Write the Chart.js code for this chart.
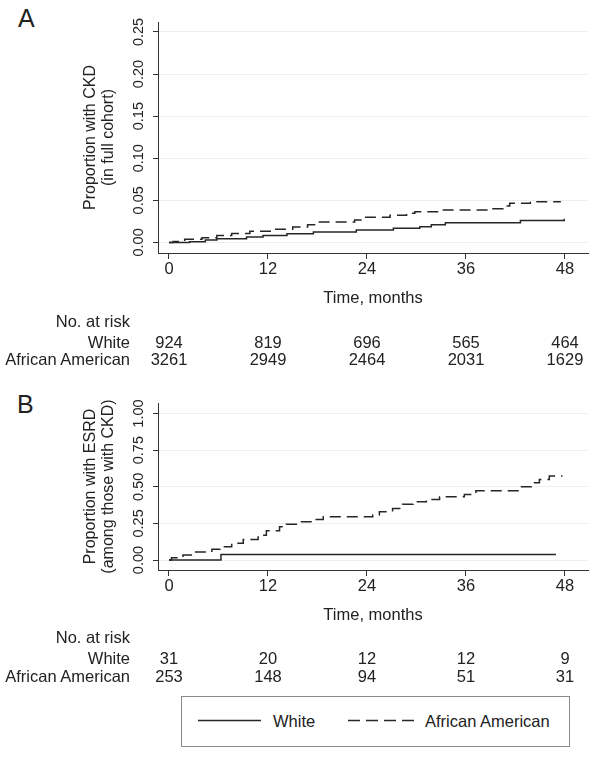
<!DOCTYPE html>
<html>
<head>
<meta charset="utf-8">
<script src="https://cdn.jsdelivr.net/npm/chart.js@4.4.1/dist/chart.umd.min.js"></script>
<style>
    body { margin: 0; background: #fff; }
    #page {
        position: relative;
        width: 602px;
        height: 757px;
        font-family: "Liberation Sans", Arial, sans-serif;
        color: #222;
        overflow: hidden;
    }
    .abs { position: absolute; white-space: nowrap; }
    .letter { font-size: 25px; line-height: 25px; }
    .risk { font-size: 16.5px; line-height: 20px; }
    .risk-label { left: 0; width: 130px; text-align: right; }
    .risk-num { transform: translateX(-50%); }
    #legend {
        position: absolute;
        left: 181px; top: 696px;
        width: 389px; height: 51px;
        box-sizing: border-box;
        border: 1px solid #8a8a8a;
        font-size: 16.5px;
        line-height: 20px;
    }
</style>
</head>
<body>
<div id="page">
    <div class="abs letter" style="left:18px; top:6px;">A</div>
    <canvas id="chartA" class="abs" width="602" height="315" style="left:0; top:0;"></canvas>
    <div id="riskA"></div>

    <div class="abs letter" style="left:17px; top:392px;">B</div>
    <canvas id="chartB" class="abs" width="602" height="252" style="left:0; top:381px;"></canvas>
    <div id="riskB"></div>

    <div id="legend">
        <svg class="abs" width="389" height="51" style="left:0; top:0;">
            <line x1="16" y1="23.5" x2="79" y2="23.5" stroke="#262626" stroke-width="1.5"/>
            <line x1="166" y1="23.5" x2="232" y2="23.5" stroke="#262626" stroke-width="1.5" stroke-dasharray="12 6"/>
        </svg>
        <span class="abs" style="left:91px; top:14px;">White</span>
        <span class="abs" style="left:243px; top:14px;">African American</span>
    </div>
</div>

<script>
/* =========================================================
   DATA
========================================================= */
const xTicks = [0, 12, 24, 36, 48];

// Panel A: cumulative proportion with CKD (full cohort)
const ckdWhiteTime = [0, 2.5, 4.4, 5.8, 9.4, 11.4, 14.3, 17.5, 22.7, 27.2, 30.4, 31.8, 33.5, 42.6, 47.9];
const ckdWhiteProp = [0, 0.0008, 0.0028, 0.0044, 0.0063, 0.0083, 0.0103, 0.0123, 0.0147, 0.0167, 0.0187, 0.021, 0.0234, 0.026, 0.028];
const ckdAATime = [0, 0.5, 1.9, 4.0, 5.8, 7.6, 9.8, 12.6, 15.0, 16.8, 17.9, 22.5, 23.5, 26.8, 28.8, 29.8, 33.0, 38.9, 40.5, 41.3, 43.8, 47.5];
const ckdAAProp = [0, 0.0012, 0.0036, 0.0056, 0.0083, 0.0107, 0.0131, 0.0155, 0.0183, 0.021, 0.0242, 0.0266, 0.0298, 0.0321, 0.0345, 0.0365, 0.0385, 0.0401, 0.0433, 0.0464, 0.0484, 0.0484];
const ckdYTicks = [0, 0.05, 0.10, 0.15, 0.20, 0.25];

// Panel B: cumulative proportion with ESRD (among those with CKD)
const esrdWhiteTime = [0, 6.3, 46.9];
const esrdWhiteProp = [0, 0.038, 0.038];
const esrdAATime = [0, 0.3, 1.7, 2.9, 5.2, 6.2, 7.6, 9.0, 10.8, 11.8, 13.4, 14.2, 15.8, 17.5, 18.7, 24.7, 25.5, 27.1, 28.3, 29.6, 31.2, 32.8, 35.8, 37.2, 42.5, 43.9, 44.9, 46.1, 47.7];
const esrdAAProp = [0, 0.016, 0.034, 0.055, 0.073, 0.091, 0.114, 0.141, 0.170, 0.200, 0.227, 0.245, 0.261, 0.277, 0.295, 0.307, 0.330, 0.352, 0.380, 0.398, 0.414, 0.432, 0.448, 0.473, 0.500, 0.527, 0.550, 0.573, 0.573];
const esrdYTicks = [0, 0.25, 0.50, 0.75, 1.00];

// Numbers at risk
const ckdRiskWhite = [924, 819, 696, 565, 464];
const ckdRiskAA = [3261, 2949, 2464, 2031, 1629];
const esrdRiskWhite = [31, 20, 12, 12, 9];
const esrdRiskAA = [253, 148, 94, 51, 31];

/* =========================================================
   CHART HELPERS
========================================================= */
Chart.defaults.font.family = '"Liberation Sans", Arial, sans-serif';
Chart.defaults.color = "#222";

const INK = "#262626";

function toPoints(times, props) {
    return times.map((t, i) => ({ x: t, y: props[i] }));
}

function kmChart(canvasId, opts) {
    return new Chart(document.getElementById(canvasId), {
        type: "line",
        data: {
            datasets: [
                {
                    label: "White",
                    data: toPoints(opts.whiteTime, opts.whiteProp),
                    borderColor: INK,
                    borderWidth: 1.5,
                    pointRadius: 0,
                    stepped: "before",
                    fill: false
                },
                {
                    label: "African American",
                    data: toPoints(opts.aaTime, opts.aaProp),
                    borderColor: INK,
                    borderWidth: 1.5,
                    borderDash: [11, 6],
                    pointRadius: 0,
                    stepped: "before",
                    fill: false
                }
            ]
        },
        options: {
            responsive: false,
            animation: false,
            events: [],
            layout: { padding: { left: 82, right: 14, top: 22, bottom: opts.padBottom } },
            plugins: { legend: { display: false }, tooltip: { enabled: false } },
            scales: {
                x: {
                    type: "linear",
                    min: -1.333,
                    max: 50.79,
                    afterBuildTicks: s => { s.ticks = xTicks.map(v => ({ value: v })); },
                    afterFit: s => { s.height = 60; },
                    grid: { drawOnChartArea: false, tickLength: 6, tickColor: "#333" },
                    border: { color: "#333", width: 1 },
                    ticks: { font: { size: 16.5 }, padding: 1, maxRotation: 0, autoSkip: false },
                    title: {
                        display: true,
                        text: "Time, months",
                        font: { size: 16.5 },
                        padding: { top: 0, bottom: 5 }
                    }
                },
                y: {
                    min: opts.yMin,
                    max: opts.yMax,
                    afterBuildTicks: s => { s.ticks = opts.yTicks.map(v => ({ value: v })); },
                    afterFit: s => { s.width = 76; },
                    grid: { color: "#eeeeee", tickLength: 5, tickColor: "#333" },
                    border: { color: "#333", width: 1 },
                    ticks: {
                        font: { size: 14.5 },
                        minRotation: 90,
                        maxRotation: 90,
                        crossAlign: "center",
                        padding: 0,
                        autoSkip: false,
                        callback: v => Number(v).toFixed(2)
                    },
                    title: {
                        display: true,
                        text: opts.yTitle,
                        font: { size: 16, lineHeight: 1.1 },
                        padding: 0
                    }
                }
            }
        }
    });
}

/* =========================================================
   NUMBER AT RISK TABLE
========================================================= */
function riskTable(holderId, chart, canvasTop, rowTops, white, aa) {
    const xs = chart.scales.x;
    let html = "";
    html += `<div class="abs risk risk-label" style="top:${rowTops[0]}px">No. at risk</div>`;
    html += `<div class="abs risk risk-label" style="top:${rowTops[1]}px">White</div>`;
    html += `<div class="abs risk risk-label" style="top:${rowTops[2]}px">African American</div>`;
    xTicks.forEach((t, i) => {
        const px = xs.getPixelForValue(t);
        html += `<div class="abs risk risk-num" style="left:${px}px; top:${rowTops[1]}px">${white[i]}</div>`;
        html += `<div class="abs risk risk-num" style="left:${px}px; top:${rowTops[2]}px">${aa[i]}</div>`;
    });
    document.getElementById(holderId).innerHTML = html;
}

/* =========================================================
   RENDER
========================================================= */
const chartA = kmChart("chartA", {
    whiteTime: ckdWhiteTime, whiteProp: ckdWhiteProp,
    aaTime: ckdAATime, aaProp: ckdAAProp,
    yMin: -0.0126, yMax: 0.2618, yTicks: ckdYTicks,
    yTitle: ["Proportion with CKD", "(in full cohort)"],
    padBottom: 2
});

const chartB = kmChart("chartB", {
    whiteTime: esrdWhiteTime, whiteProp: esrdWhiteProp,
    aaTime: esrdAATime, aaProp: esrdAAProp,
    yMin: -0.068, yMax: 1.072, yTicks: esrdYTicks,
    yTitle: ["Proportion with ESRD", "(among those with CKD)"],
    padBottom: 3
});

riskTable("riskA", chartA, 0, [310.5, 332, 348.5], ckdRiskWhite, ckdRiskAA);
riskTable("riskB", chartB, 381, [627, 648, 665.5], esrdRiskWhite, esrdRiskAA);
</script>
</body>
</html>
